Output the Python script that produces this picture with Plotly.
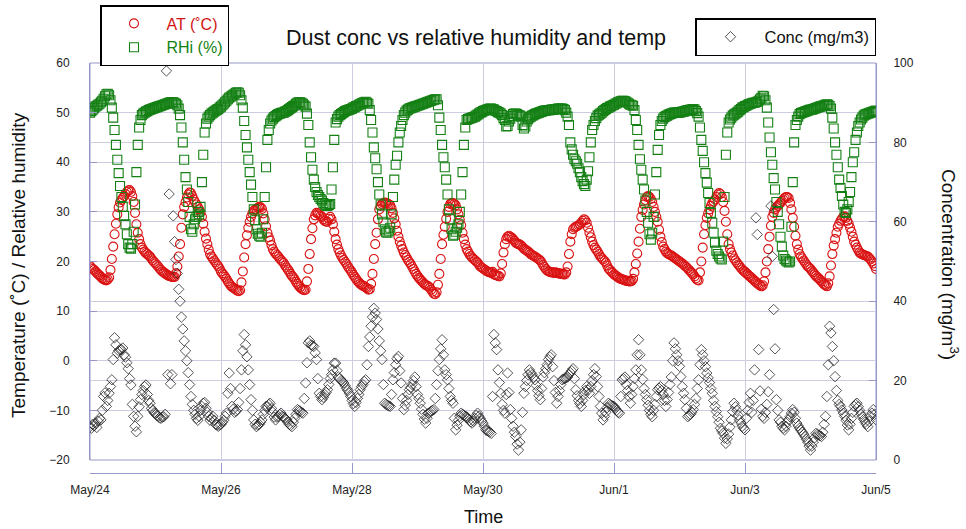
import pandas as pd
import plotly.graph_objects as go

# ---------------- data: half-hourly readings, May 24 00:00 -> Jun 5 00:00 ----------------
start_time = "2008-05-24 00:00"
end_time = "2008-06-05 00:00"

# air temperature (deg C), one row per day (48 readings) + final reading
at_c = [
    19.1,18.8,18.5,18.3,18.0,17.7,17.4,17.2,16.9,16.6,16.4,16.3,16.2,16.4,16.8,18.3,20.5,23.0,25.5,27.6,29.5,30.9,31.9,32.4,32.8,33.2,33.6,34.0,34.3,34.4,34.0,33.2,32.0,29.8,27.5,25.8,24.5,23.5,22.8,22.4,22.0,21.7,21.5,21.2,21.0,20.6,20.2,19.9,
    19.6,19.3,19.0,18.6,18.3,18.0,17.8,17.6,17.4,17.2,17.1,17.0,16.9,16.9,16.9,17.6,19.0,21.0,23.5,26.8,29.5,31.0,32.0,32.9,33.5,33.9,33.8,33.2,32.5,32.0,31.5,31.0,30.5,29.9,29.0,27.6,26.0,24.6,23.5,22.4,21.5,21.0,20.6,20.2,19.8,19.4,19.1,18.6,
    18.0,17.6,17.3,16.9,16.5,16.0,15.6,15.2,14.9,14.7,14.5,14.3,14.1,14.0,14.2,15.8,18.0,20.8,23.5,25.3,26.8,28.0,29.0,29.7,30.2,30.4,30.6,30.8,31.0,30.9,30.6,29.7,28.5,27.1,25.8,24.9,24.2,23.3,22.5,22.0,21.6,21.3,21.0,20.6,20.3,20.0,19.7,19.2,
    18.8,18.4,18.0,17.5,17.1,16.8,16.4,15.9,15.5,15.1,14.8,14.5,14.3,14.2,14.3,16.0,18.5,21.5,24.5,26.7,28.5,29.3,29.8,29.7,29.5,29.2,29.0,28.5,28.2,28.0,28.0,28.6,29.0,28.5,27.5,26.0,24.5,23.4,22.5,21.8,21.2,20.7,20.3,19.9,19.5,19.0,18.6,18.2,
    17.8,17.3,16.9,16.5,16.1,15.8,15.5,15.3,15.1,15.0,14.8,14.6,14.3,14.4,15.5,17.5,20.5,23.5,25.8,28.5,30.5,31.2,31.6,31.8,31.9,31.8,31.7,31.5,31.3,30.7,29.8,28.7,27.5,26.2,25.0,24.0,23.2,22.5,21.8,21.3,20.8,20.3,19.9,19.5,19.0,18.5,18.0,17.5,
    17.1,16.7,16.4,16.1,15.8,15.5,15.3,15.1,15.0,14.7,14.3,13.9,13.5,13.4,13.8,15.3,17.5,20.5,23.5,25.4,27.0,28.6,30.0,31.0,31.6,31.8,31.8,31.6,31.3,30.5,29.5,28.4,27.3,25.8,24.5,23.4,22.5,22.0,21.5,21.1,20.8,20.5,20.3,20.0,19.8,19.4,19.0,18.8,
    18.6,18.4,18.2,18.0,17.9,17.8,17.7,17.9,17.4,17.3,17.2,17.1,17.0,17.6,19.5,21.8,23.5,24.5,25.0,25.2,25.0,24.8,24.5,24.2,23.8,23.6,23.5,23.4,23.2,22.9,22.6,22.4,22.2,22.0,21.8,21.5,21.3,21.1,21.0,20.8,20.6,20.4,20.2,19.8,19.3,18.9,18.5,18.2,
    18.0,17.9,17.8,17.8,17.7,17.8,17.7,17.6,17.6,17.5,17.5,17.4,17.4,17.8,19.0,21.5,24.0,25.5,26.5,26.8,27.0,27.1,27.3,27.5,27.8,28.2,28.5,28.3,27.8,26.8,25.8,24.9,24.0,23.3,22.8,22.4,22.0,21.5,21.0,20.7,20.4,20.1,19.8,19.2,18.6,18.3,18.0,17.7,
    17.4,17.2,17.0,16.8,16.6,16.5,16.4,16.3,16.2,16.1,16.1,16.0,16.0,16.1,16.5,17.8,19.5,21.6,24.0,26.6,29.0,30.4,31.5,32.4,33.0,33.2,33.0,32.6,32.0,31.0,30.0,29.0,28.0,26.4,25.0,23.9,23.0,22.5,22.0,21.7,21.5,21.3,21.2,21.0,20.8,20.6,20.4,20.2,
    20.0,19.8,19.6,19.4,19.1,18.9,18.6,18.3,18.0,17.7,17.4,17.0,16.6,16.3,16.2,17.8,20.0,22.8,25.5,27.3,28.8,29.7,30.5,31.2,31.8,32.1,32.5,33.0,33.5,33.8,33.6,33.0,32.0,30.2,28.0,25.5,23.5,22.5,21.8,21.2,20.6,20.2,19.8,19.4,19.1,18.7,18.4,18.1,
    17.9,17.6,17.4,17.1,16.9,16.6,16.4,16.1,15.9,15.6,15.4,15.2,15.0,15.2,16.0,17.8,20.0,22.5,25.0,27.2,29.0,29.8,30.5,30.9,31.2,31.5,31.8,32.2,32.5,32.8,33.0,33.0,32.8,31.8,30.5,28.8,27.0,25.2,23.5,22.4,21.5,21.0,20.6,20.2,19.8,19.4,19.0,18.8,
    18.5,18.1,17.8,17.4,17.1,16.8,16.6,16.3,16.0,15.7,15.4,15.2,15.0,15.6,17.0,19.2,21.5,23.2,24.5,25.8,27.0,27.6,28.2,28.6,29.0,29.1,28.8,28.2,27.6,26.8,26.0,25.0,24.0,23.4,22.8,22.3,21.8,21.6,21.4,21.3,21.2,21.1,21.0,20.7,20.4,20.0,19.6,19.1,
    18.5,
]

# relative humidity (%)
rhi_pct = [
    50.0,50.3,50.6,50.9,51.2,51.4,51.6,51.8,52.1,52.4,52.8,53.3,53.7,53.8,53.5,52.5,51.0,49.0,46.5,43.5,40.5,37.8,35.2,33.0,31.0,29.2,27.5,25.5,23.5,22.8,22.6,23.5,26.0,31.5,38.0,43.5,47.0,48.5,49.5,49.8,50.0,50.2,50.3,50.5,50.6,50.7,50.8,50.9,
    51.0,51.1,51.2,51.3,51.4,51.5,51.6,51.7,51.8,51.9,52.0,52.1,52.1,52.1,52.0,51.8,51.5,50.8,49.5,47.0,44.0,40.5,37.0,34.5,32.0,29.0,26.5,26.0,27.5,28.5,29.0,30.0,29.5,31.0,36.0,41.5,46.0,47.8,48.8,49.2,49.5,49.8,50.0,50.2,50.4,50.6,50.7,51.0,
    51.2,51.5,51.8,52.1,52.4,52.7,53.0,53.2,53.4,53.6,53.8,54.0,54.1,54.0,53.5,52.5,51.0,48.3,45.5,43.0,40.5,38.0,35.5,33.0,30.5,28.3,26.5,25.6,25.2,25.0,25.8,28.5,33.0,39.0,44.5,46.5,47.8,48.4,48.8,49.1,49.3,49.5,49.7,49.8,49.9,50.0,50.0,50.2,
    50.3,50.5,50.7,50.9,51.1,51.3,51.5,51.8,52.0,52.1,52.1,52.0,51.8,51.5,51.2,49.8,47.5,44.0,41.0,38.5,36.5,35.0,34.0,33.4,33.0,32.6,32.3,31.8,31.5,31.3,31.2,31.4,31.6,34.5,39.0,44.5,48.0,48.7,49.2,49.5,49.7,49.9,50.1,50.3,50.4,50.5,50.6,50.7,
    50.8,51.0,51.1,51.3,51.4,51.6,51.7,51.9,52.0,52.1,52.2,52.0,51.8,50.5,48.5,46.0,43.0,40.8,38.6,36.0,33.5,31.5,29.5,28.0,26.5,25.9,25.8,26.2,26.8,29.5,33.0,36.5,39.5,41.3,44.0,46.0,47.3,48.5,49.5,50.0,50.4,50.6,50.8,50.9,51.0,51.1,51.2,51.3,
    51.4,51.5,51.6,51.7,51.8,51.9,52.0,52.1,52.2,52.3,52.4,52.5,52.6,52.7,52.7,51.5,49.0,46.5,43.5,41.0,39.0,36.5,33.5,30.5,28.5,26.5,25.2,25.4,26.0,26.8,27.5,30.0,33.5,38.0,43.5,47.0,48.5,48.7,48.8,48.9,49.0,49.1,49.2,49.4,49.6,49.8,50.0,50.1,
    50.3,50.4,50.5,50.6,50.7,50.8,50.8,50.7,50.6,50.4,50.3,50.1,50.0,49.8,49.5,48.9,48.5,47.2,47.3,48.2,48.8,49.3,49.7,49.8,49.8,49.7,49.5,49.4,49.2,47.5,46.8,47.2,48.2,48.7,49.0,49.2,49.4,49.5,49.7,49.8,49.9,50.0,50.1,50.2,50.3,50.4,50.4,50.5,
    50.5,50.5,50.6,50.6,50.6,50.7,50.7,50.8,50.8,50.8,50.8,50.7,50.5,50.0,49.2,47.5,44.0,42.6,41.5,40.6,40.2,39.7,38.8,38.0,37.0,36.2,35.6,35.2,36.5,38.2,41.0,44.0,46.5,47.5,48.3,48.9,49.4,49.6,49.8,50.0,50.3,50.5,50.7,50.9,51.0,51.2,51.3,51.5,
    51.6,51.8,51.9,52.1,52.2,52.3,52.4,52.4,52.3,52.2,52.0,51.8,51.6,51.5,51.4,50.5,48.5,46.5,43.5,40.6,38.5,36.5,34.5,32.3,30.0,27.8,25.5,24.4,25.8,29.0,33.5,38.0,42.5,45.5,47.5,48.3,48.8,49.1,49.3,49.4,49.6,49.7,49.8,49.9,50.0,50.0,50.0,50.0,
    50.0,50.1,50.2,50.2,50.3,50.4,50.5,50.5,50.6,50.6,50.7,50.6,50.3,49.9,49.2,47.0,44.5,42.3,40.0,37.8,35.9,33.8,31.8,29.8,27.8,25.8,23.8,22.2,21.5,21.0,20.6,20.4,24.0,33.0,41.5,46.0,48.0,48.6,49.0,49.4,49.6,49.8,50.0,50.2,50.5,50.7,51.0,51.1,
    51.3,51.4,51.6,51.7,51.8,51.9,52.0,52.0,52.1,52.2,52.4,52.7,53.0,53.4,53.3,52.5,51.0,48.0,45.0,42.0,39.5,36.8,34.5,32.0,30.0,27.5,25.0,23.0,21.2,20.5,20.2,20.0,19.8,20.0,27.0,36.0,44.0,47.5,48.5,49.2,49.7,49.9,50.0,50.1,50.2,50.3,50.4,50.5,
    50.6,50.6,50.7,50.8,50.9,51.0,51.1,51.2,51.3,51.4,51.5,51.6,51.7,51.6,51.3,50.8,49.0,46.8,44.0,41.5,39.0,36.5,34.8,33.2,31.5,30.0,29.8,30.5,32.0,34.0,37.0,40.0,42.0,44.5,46.0,47.3,48.0,48.6,49.0,49.4,49.6,49.7,49.8,49.9,50.0,50.1,50.2,50.3,
    50.4,
]

# dust concentration (mg/m3), right axis
conc_mgm3 = [
    8.4,8.0,9.0,8.6,9.3,8.2,9.8,10.5,10.1,12.5,16.0,16.9,13.5,15.0,16.8,18.5,20.2,25.3,30.8,29.0,26.9,27.5,27.8,27.8,28.2,26.5,25.9,24.5,23.0,20.5,18.9,14.0,11.0,8.5,7.1,11.0,13.4,15.2,16.5,17.5,18.5,18.9,16.5,15.0,14.3,13.0,12.5,11.9,
    11.8,11.2,11.0,10.6,10.5,10.8,10.9,11.5,98.0,21.5,67.0,19.2,21.5,61.5,55.0,50.5,47.0,43.0,40.0,36.0,33.0,30.0,27.5,25.0,22.0,19.0,16.0,14.0,12.5,11.5,10.5,10.0,11.0,12.5,13.5,14.3,14.5,13.0,12.0,11.0,10.0,10.5,11.0,10.0,9.0,8.8,8.5,8.8,
    9.0,9.5,10.0,11.0,11.8,16.8,21.9,18.0,13.5,12.8,12.0,12.3,12.7,14.5,18.0,22.7,27.5,31.6,29.0,26.0,22.7,19.0,15.2,12.5,10.1,9.0,8.4,8.8,9.0,9.5,10.1,11.5,12.5,13.5,13.5,14.0,14.3,13.0,12.0,10.8,10.1,10.8,11.0,11.5,11.8,11.0,10.8,10.5,
    10.1,9.5,9.0,8.7,8.4,9.5,10.5,11.5,12.7,12.5,12.3,12.0,11.8,15.5,19.4,24.5,29.5,30.0,29.0,28.8,28.6,27.0,25.3,20.5,16.8,16.0,15.2,15.8,16.5,17.0,17.7,19.0,20.5,21.5,22.7,24.4,24.4,22.5,20.9,20.5,20.0,19.8,19.4,18.7,18.0,17.5,16.8,16.0,
    15.0,14.2,13.5,14.5,15.5,16.5,17.7,18.5,19.0,19.8,20.2,24.0,28.6,31.0,33.7,36.0,38.2,37.0,35.4,33.0,30.0,27.5,25.3,19.0,14.3,14.0,13.8,13.6,13.5,16.5,20.2,22.0,24.0,25.5,26.1,22.5,19.4,15.5,12.7,13.8,15.0,16.5,17.7,18.3,19.0,20.0,20.9,18.5,
    16.5,15.5,14.3,12.8,11.5,10.3,9.3,10.5,11.8,12.0,12.3,12.5,12.7,15.5,19.0,22.5,25.3,28.0,30.3,26.5,22.7,21.5,20.2,18.0,16.0,15.0,14.3,10.5,7.6,8.8,10.0,11.0,11.8,11.5,11.3,11.0,10.9,10.5,10.0,9.6,9.3,9.8,10.5,11.2,11.8,11.0,10.5,9.8,
    9.3,8.5,7.6,7.4,7.2,7.0,6.7,16.0,31.6,29.5,27.8,22.7,19.5,16.8,14.0,12.5,11.8,16.5,21.9,17.0,12.7,10.5,8.5,7.0,5.9,4.0,2.5,4.5,7.6,12.0,16.8,18.5,20.0,21.5,22.7,22.0,21.5,20.8,20.2,18.8,17.5,16.2,15.2,18.0,20.9,22.0,23.0,24.0,
    25.3,26.0,26.5,23.5,20.0,17.0,14.3,16.0,17.5,19.0,20.2,20.4,20.5,20.7,20.9,21.5,22.0,22.5,23.0,20.5,17.7,16.2,15.0,14.2,13.5,15.0,16.5,17.5,18.5,17.6,16.8,18.5,20.0,21.5,23.0,21.0,18.5,16.0,13.5,11.8,10.1,11.0,12.0,13.2,14.3,14.0,13.8,13.6,
    13.5,13.0,12.5,12.0,11.8,16.0,20.2,20.5,20.9,19.0,17.5,16.0,14.3,16.5,18.5,20.5,22.7,26.5,30.3,26.5,22.7,20.3,18.0,16.5,15.2,13.8,12.5,11.5,10.9,12.5,14.0,16.0,17.7,18.1,18.5,17.5,16.5,15.0,13.5,15.2,17.0,19.0,20.9,25.0,29.5,28.0,26.5,25.0,
    23.6,21.0,18.5,16.8,15.2,13.0,10.9,11.2,11.5,12.0,12.7,14.0,15.5,18.0,20.2,24.0,27.8,26.5,25.0,23.5,21.9,20.7,19.5,18.0,16.8,15.0,13.5,12.2,10.9,9.5,8.0,7.3,6.7,5.5,4.2,5.3,6.5,8.3,10.1,12.2,14.3,13.4,12.5,11.3,10.1,9.3,8.5,8.0,
    7.6,10.5,12.5,14.5,16.8,12.0,15.0,22.7,61.0,56.8,27.8,17.4,12.8,11.0,10.5,12.0,14.0,17.2,21.5,64.0,51.3,37.9,28.0,15.2,12.5,10.1,9.5,8.5,8.0,7.6,8.5,9.5,10.2,10.9,11.8,12.7,12.0,10.5,9.3,8.6,8.0,7.5,7.0,6.5,5.9,5.2,4.5,3.5,
    2.5,3.5,4.5,5.6,6.7,6.5,6.3,6.1,5.9,7.0,9.0,11.0,16.0,24.0,33.7,32.0,28.6,25.0,21.0,17.5,15.0,14.0,13.5,12.6,11.8,11.0,10.0,8.8,7.6,9.0,10.5,12.0,13.5,14.0,14.3,13.4,12.5,11.6,10.9,10.2,9.5,9.0,8.4,9.7,11.0,11.8,12.7,11.5,
    10.1,
]

tick_dates = ["2008-05-24", "2008-05-26", "2008-05-28", "2008-05-30", "2008-06-01", "2008-06-03", "2008-06-05"]
tick_labels = ["May/24", "May/26", "May/28", "May/30", "Jun/1", "Jun/3", "Jun/5"]
left_ticks = [-20, -10, 0, 10, 20, 30, 40, 50, 60]
right_ticks = [0, 20, 40, 60, 80, 100]


def times_for(series):
    return pd.date_range(start_time, periods=len(series), freq="30min")


# ---------------- layout geometry ----------------
W, H = 966, 529
ML, MR, MT, MB = 90, 90, 63, 56
PW = W - ML - MR
PH = H - MT - MB
AXIS_GAP = 13  # x axis line sits a little below the plot frame
dom0 = AXIS_GAP / PH


def px_x(p):
    return (p - ML) / PW


def px_y(p):
    return (H - MB - p) / PH


FRAME = "rgb(150,150,200)"
GRID = "rgb(205,205,225)"
FONT = "Liberation Sans, Arial, Helvetica, sans-serif"

fig = go.Figure()
fig.add_trace(go.Scatter(
    x=times_for(at_c), y=at_c, mode="markers",
    name='<span style="color:rgb(210,20,20)">AT (˚C)</span>',
    marker=dict(symbol="circle-open", size=9, color="rgb(218,18,18)", line=dict(width=1.1)),
    legend="legend",
))
fig.add_trace(go.Scatter(
    x=times_for(rhi_pct), y=rhi_pct, mode="markers",
    name='<span style="color:rgb(20,130,20)">RHi (%)</span>',
    marker=dict(symbol="square-open", size=9, color="rgb(20,128,20)", line=dict(width=1.1)),
    legend="legend",
))
fig.add_trace(go.Scatter(
    x=times_for(conc_mgm3), y=conc_mgm3, mode="markers", yaxis="y2",
    name="Conc (mg/m3)",
    marker=dict(symbol="diamond-open", size=8, color="rgba(30,30,30,0.75)", line=dict(width=1)),
    legend="legend2",
))

fig.update_layout(
    width=W, height=H,
    margin=dict(l=ML, r=MR, t=MT, b=MB, pad=0, autoexpand=False),
    paper_bgcolor="white", plot_bgcolor="white",
    font=dict(family=FONT, size=12, color="#222"),
    showlegend=True,
    xaxis=dict(
        type="date", range=[start_time, end_time],
        anchor="free", position=0,
        showline=True, linecolor=FRAME, linewidth=1,
        ticks="inside", ticklen=10, tickcolor=FRAME,
        tickvals=tick_dates, ticktext=tick_labels,
        ticklabelstandoff=6,
        showgrid=True, gridcolor=GRID, gridwidth=1, zeroline=False,
        tickfont=dict(size=12, color="#222"),
    ),
    yaxis=dict(
        domain=[dom0, 1], range=[-20, 60], tickvals=left_ticks,
        ticks="inside", ticklen=7, tickcolor=FRAME,
        showline=True, linecolor=FRAME, linewidth=1,
        showgrid=True, gridcolor=GRID, gridwidth=1, zeroline=False,
        ticklabelstandoff=17, tickfont=dict(size=12, color="#222"),
    ),
    yaxis2=dict(
        overlaying="y", side="right", range=[0, 100], tickvals=right_ticks,
        ticks="inside", ticklen=7, tickcolor=FRAME,
        showline=True, linecolor=FRAME, linewidth=1,
        showgrid=True, gridcolor=GRID, gridwidth=1, zeroline=False,
        ticklabelstandoff=14, tickfont=dict(size=12, color="#222"),
    ),
    legend=dict(
        x=px_x(100), y=px_y(5), xanchor="left", yanchor="top",
        bordercolor="black", borderwidth=1.5, bgcolor="white",
        font=dict(size=16, family=FONT), itemwidth=55,
        tracegroupgap=0,
    ),
    legend2=dict(
        x=px_x(876), y=px_y(18), xanchor="right", yanchor="top",
        bordercolor="black", borderwidth=1.5, bgcolor="white",
        font=dict(size=16.5, family=FONT, color="#111"), itemwidth=58,
    ),
    shapes=[
        dict(type="rect", xref="paper", yref="paper", x0=0, x1=1, y0=dom0, y1=1,
             line=dict(color=FRAME, width=1), layer="below"),
    ],
    annotations=[
        dict(text="Dust conc vs relative humidity and temp", xref="paper", yref="paper",
             x=px_x(476), y=px_y(38), showarrow=False, xanchor="center", yanchor="middle",
             font=dict(size=21.5, color="#111")),
        dict(text="Temperature (˚C) / Relative humidity", xref="paper", yref="paper",
             x=px_x(18), y=px_y(265), showarrow=False, textangle=-90,
             xanchor="center", yanchor="middle", font=dict(size=19, color="#111")),
        dict(text="Concentration (mg/m<sup>3</sup>)", xref="paper", yref="paper",
             x=px_x(950), y=px_y(265), showarrow=False, textangle=90,
             xanchor="center", yanchor="middle", font=dict(size=19, color="#111")),
        dict(text="Time", xref="paper", yref="paper",
             x=px_x(483), y=px_y(517), showarrow=False,
             xanchor="center", yanchor="middle", font=dict(size=18, color="#111")),
    ],
)

fig.write_html("out.html")
